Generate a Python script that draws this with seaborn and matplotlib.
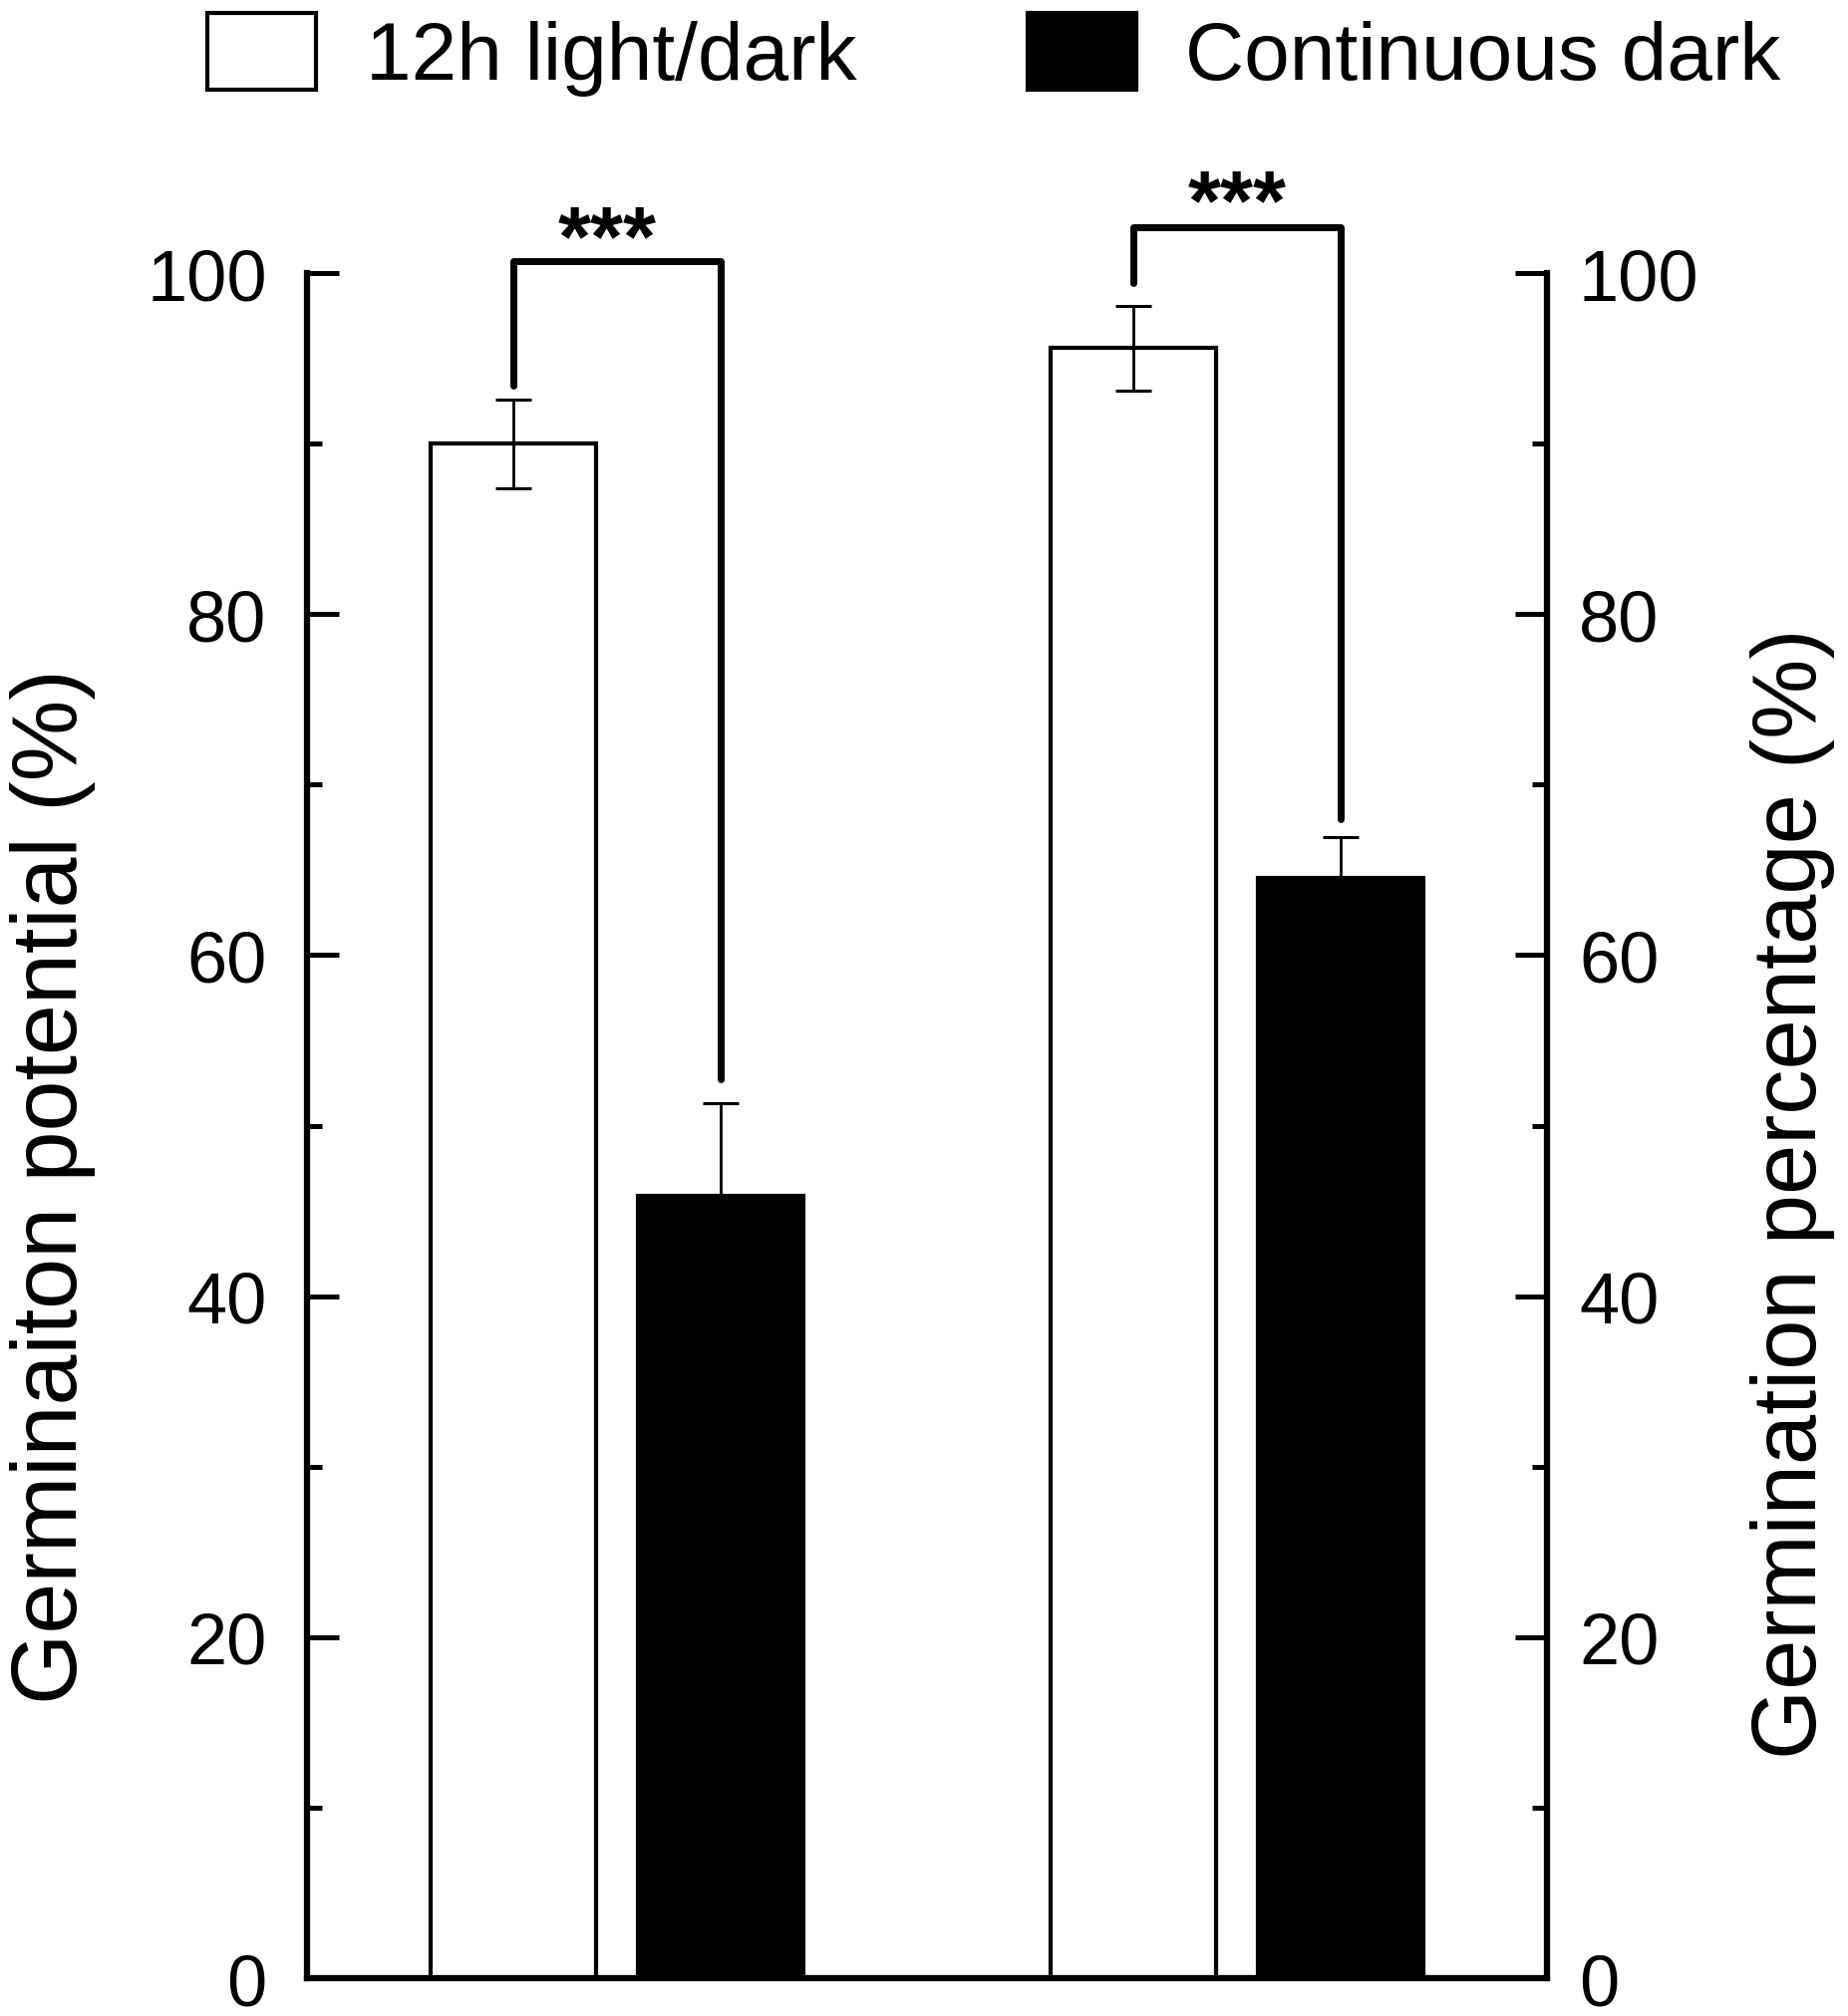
# Germination under 12h light/dark vs continuous dark - bar chart with brackets
import numpy as np
import pandas as pd
import matplotlib.pyplot as plt
import seaborn as sns
from matplotlib.patches import Patch

# Data
measures = ['Germination potential', 'Germination percentage']
conditions = ['12h light/dark', 'Continuous dark']
mean_light = [90.0, 95.6]
mean_dark = [45.9, 64.5]
err_light = [2.6, 2.5]
err_dark = [5.4, 2.4]

# significance brackets (one per measure)
sig_labels = ['***', '***']
bracket_top = [100.7, 102.7]
bracket_left_end = [93.4, 99.4]
bracket_right_end = [52.7, 68.0]
star_base = [100.5, 102.6]
star_shift = [-0.015, 0.0]

y_ticks = [0, 20, 40, 60, 80, 100]
y_minor = [10, 30, 50, 70, 90]

df = pd.DataFrame({
    'measure': measures * 2,
    'condition': [conditions[0]] * 2 + [conditions[1]] * 2,
    'value': mean_light + mean_dark,
})

sns.set_style('white')
plt.rcParams['font.family'] = ['Liberation Sans', 'DejaVu Sans']
plt.rcParams['text.color'] = 'black'
plt.rcParams['axes.labelcolor'] = 'black'
plt.rcParams['ytick.color'] = 'black'
plt.rcParams['xtick.color'] = 'black'

fig = plt.figure(figsize=(18.54, 20.24), dpi=100)
ax = fig.add_axes([0.1661, 0.01877, 0.671, 0.8453])

sns.barplot(data=df, x='measure', y='value', hue='condition', hue_order=conditions,
            palette=['white', 'black'], saturation=1, edgecolor='black', linewidth=3,
            width=0.668, gap=0.2, errorbar=None, legend=False, ax=ax)

# error bars at bar centres (sorted left to right)
bars = sorted(ax.patches, key=lambda p: p.get_x())
centers = [b.get_x() + b.get_width() / 2 for b in bars]
heights = [mean_light[0], mean_dark[0], mean_light[1], mean_dark[1]]
errs = [err_light[0], err_dark[0], err_light[1], err_dark[1]]
ax.errorbar(centers, heights, yerr=errs, fmt='none', ecolor='black',
            elinewidth=2, capsize=13, capthick=2.2, zorder=5)

# significance brackets
for i in range(2):
    xl, xr = centers[2 * i], centers[2 * i + 1]
    ax.plot([xl, xl, xr, xr],
            [bracket_left_end[i], bracket_top[i], bracket_top[i], bracket_right_end[i]],
            color='black', lw=5, clip_on=False, zorder=6, solid_capstyle='round',
            solid_joinstyle='round')
    ax.text((xl + xr) / 2 + star_shift[i], star_base[i], sig_labels[i], ha='center',
            va='baseline', fontsize=61, fontweight='bold')

ax.set_xlim(-0.5, 1.5)
ax.set_ylim(0, 100)
ax.set_xticks([])
ax.set_xlabel('')
ax.set_yticks(y_ticks)
ax.set_yticks(y_minor, minor=True)
ax.tick_params(axis='y', which='major', direction='in', length=23, width=3.6,
               labelsize=52, pad=29)
ax.tick_params(axis='y', which='minor', direction='in', length=11, width=3.6)
ax.set_ylabel('Germinaiton potential (%)', fontsize=66)
ax.yaxis.set_label_coords(-0.17, 0.465)
for side in ['top', 'right']:
    ax.spines[side].set_visible(False)
for side in ['left', 'bottom']:
    ax.spines[side].set_linewidth(4.5)
    ax.spines[side].set_color('black')

ax2 = ax.twinx()
ax2.set_ylim(0, 100)
ax2.set_yticks(y_ticks)
ax2.set_yticks(y_minor, minor=True)
ax2.tick_params(axis='y', which='major', direction='in', length=23, width=3.6,
                labelsize=52, pad=23)
ax2.tick_params(axis='y', which='minor', direction='in', length=11, width=3.6)
ax2.set_ylabel('Germination percentage (%)', fontsize=65)
ax2.yaxis.set_label_coords(1.164, 0.461)
for side in ['top', 'left', 'bottom']:
    ax2.spines[side].set_visible(False)
ax2.spines['right'].set_linewidth(4.5)
ax2.spines['right'].set_color('black')

handles = [Patch(facecolor='white', edgecolor='black', linewidth=3),
           Patch(facecolor='black', edgecolor='black', linewidth=3)]
fig.legend(handles, conditions, loc='center', bbox_to_anchor=(0.538, 0.9725), ncol=2,
           frameon=False, fontsize=59, handlelength=1.33, handleheight=1.06,
           handletextpad=0.6, columnspacing=2.1)

fig.savefig('out.png', dpi=100, facecolor='white')
